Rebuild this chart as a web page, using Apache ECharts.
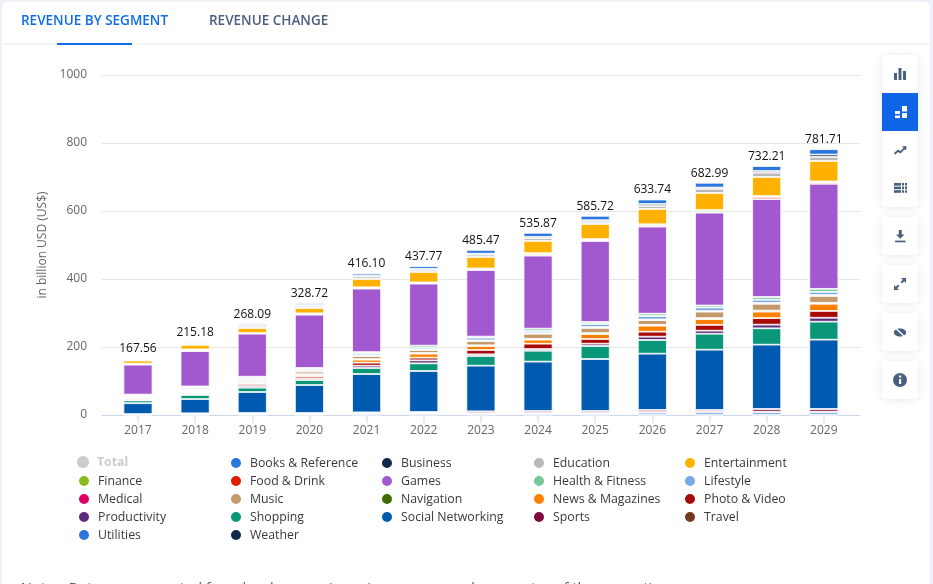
<!DOCTYPE html>
<html><head><meta charset="utf-8">
<style>html,body{margin:0;padding:0;background:#eef2f8;overflow:hidden}#c{width:933px;height:584px}</style>
<script src="https://cdn.jsdelivr.net/npm/echarts@6/dist/echarts.min.js"></script>
</head><body><div id="c"></div>
<script>
const years=['2017','2018','2019','2020','2021','2022','2023','2024','2025','2026','2027','2028','2029'];
const total=[167.56,215.18,268.09,328.72,416.10,437.77,485.47,535.87,585.72,633.74,682.99,732.21,781.71];
const yTicks=[0,200,400,600,800,1000];
const weather=[.3,.5,.6,.6,.3,1,1,1,1,.5,.5,.5,.5];
const utilities=[1,2,2,2,5,3.5,3,3.5,3.5,6,6.5,6.5,6.5];
const travel=[.5,.8,1.3,1.3,.5,1.3,1.8,2.3,2.3,2.2,3,3,3];
const sports=[1,1.7,2,2,2,3,5,5,5,6,4.7,7.6,7.6];
const social=[32,42,61.7,82.3,112.8,120.6,134.2,145.2,152.9,165.7,177.3,189.3,204];
const shopping=[8,11.8,12.8,14.7,17.6,22.6,28.5,32,38.3,40.2,47,48.1,52.9];
const productivity=[2,2.8,4.9,4,6.8,8.8,4.9,5,6.8,9.8,9,10.7,11.5];
const photo=[3,3,5.9,5.8,8.9,7.8,12.8,15.8,13.7,14.6,17,19.3,20];
const news=[3,3,3,4.4,8.8,11.8,11.8,11.8,14.5,17.7,17,19,21];
const navigation=[1,3,3,3,1.8,2,2,2.4,3,2.5,3,3,3];
const music=[4,3,4.7,7.4,9,8.8,12.6,15,15,13.8,19,20,20];
const medical=[.8,3,3,3,1.5,2,2,2,2.6,2,2,3,3];
const lifestyle=[2.5,4.5,3.9,4,5,4.8,7.9,6,9,10,10,9,9];
const health=[1,3,3.9,3.7,5,6,3,7,5.9,7,6,8,9];
const games=[88,103.9,126.5,156.8,186.6,182.3,196,214.6,238.3,256,273,288,309];
const food=[.6,2,.6,1,1.5,1.2,1.5,3,2.8,3,3,6,4];
const finance=[2.4,3,1.2,3,2.4,2.5,3,4.4,3,4,5,3,3];
const entertainment=[9,13,14.9,15.7,24.5,30.6,33.7,36,44.2,45,50,56,60];
const education=[3,3.5,4.19,5.9,7,6.4,6.9,8,6.2,8.7,12,12.7,12];
const business=[1.46,2.18,4,3,3,3,3,4,5,5.9,4,4.9,7];
const books=[3,3.5,4,5.12,6.1,7.77,10.87,11.87,12.72,13.14,13.99,14.61,15.71];

const stackOrder=[
 ['Weather',weather,'#0f2a47'],['Utilities',utilities,'#2b76de'],['Travel',travel,'#733a20'],
 ['Sports',sports,'#7c0a3e'],['Social Networking',social,'#005bb0'],['Shopping',shopping,'#0a9678'],
 ['Productivity',productivity,'#5c2a78'],['Photo & Video',photo,'#a80a0a'],['News & Magazines',news,'#ff8000'],
 ['Navigation',navigation,'#3e6b00'],['Music',music,'#c49a6c'],['Medical',medical,'#dc0062'],
 ['Lifestyle',lifestyle,'#78a8e6'],['Health & Fitness',health,'#76c99a'],['Games',games,'#a259cf'],
 ['Food & Drink',food,'#dd1c00'],['Finance',finance,'#8abb1e'],['Entertainment',entertainment,'#ffb100'],
 ['Education',education,'#b9b9b9'],['Business',business,'#0f2a47'],['Books & Reference',books,'#2b76de']];
const legendCols=[
 ['Finance','Medical','Productivity','Utilities'],
 ['Books & Reference','Food & Drink','Music','Shopping','Weather'],
 ['Business','Games','Navigation','Social Networking'],
 ['Education','Health & Fitness','News & Magazines','Sports'],
 ['Entertainment','Lifestyle','Photo & Video','Travel']];
const legendLeft=[77,229,380,532,683];
const legendTop=[474,456,456,456,456];
const FONT='"Open Sans"';
const slate='#4a6080';

const series=stackOrder.map(([name,data,color])=>({
 name,type:'bar',stack:'s',xAxisIndex:1,yAxisIndex:1,data,barWidth:29,
 itemStyle:{color,borderColor:'#fff',borderWidth:0.8}}));
series.push({name:'Total',type:'line',xAxisIndex:1,yAxisIndex:1,data:total,
 symbol:'circle',symbolSize:1,lineStyle:{opacity:0},itemStyle:{opacity:0,color:'#ccc'},
 label:{show:true,position:'top',distance:3,color:'#111',fontFamily:FONT,fontSize:12,fontWeight:500,
   opacity:1,formatter:p=>p.value.toFixed(2)},z:5});

const legendText={fontFamily:FONT,fontSize:12.3,padding:[0,0,0,3]};
const legendBase={orient:'vertical',padding:0,itemGap:4,itemWidth:12,itemHeight:12,icon:'circle',selectedMode:false};
const legends=legendCols.map((names,i)=>({...legendBase,
 left:legendLeft[i],top:legendTop[i],textStyle:{color:'#3a3a3a',...legendText},data:names}));
legends.push({...legendBase,left:legendLeft[0],top:456,
 textStyle:{color:'#ccc',fontWeight:700,...legendText},
 data:[{name:'Total',itemStyle:{color:'#ccc',opacity:1}}]});

const R=(x,y,w,h)=>[[x,y],[x+w,y],[x+w,y+h],[x,y+h]];
const ic=(polys,x,y,fill)=>polys.map(points=>({type:'polygon',z:12,x,y,shape:{points},style:{fill:fill||slate}}));
const card=(y,h,fill)=>({type:'rect',z:10,shape:{x:882,y,width:36,height:h,r:4},
  style:{fill:fill||'#fff',shadowBlur:8,shadowColor:'rgba(60,80,120,0.13)',shadowOffsetY:1}});
const gridIcon=[];
[0,3.6,7.2].forEach(v=>{gridIcon.push(R(0,v,7,2.6),R(8,v,2,2.6),R(11,v,2,2.6));});
const graphic=[
 {type:'rect',z:-10,shape:{x:2,y:2,width:928,height:590,r:5},style:{fill:'#fff'}},
 {type:'rect',z:-9,shape:{x:2,y:43,width:928,height:2},style:{fill:'#f2f6fb'}},
 {type:'rect',z:-8,shape:{x:57,y:43,width:75,height:2},style:{fill:'#0f6be8'}},
 {type:'text',z:5,style:{x:21,y:21,text:'REVENUE BY SEGMENT',fill:'#0f6be8',font:'600 13.5px "Open Sans"',textVerticalAlign:'middle'}},
 {type:'text',z:5,style:{x:209,y:21,text:'REVENUE CHANGE',fill:slate,font:'600 13.5px "Open Sans"',textVerticalAlign:'middle'}},
 {type:'text',z:5,style:{x:21,y:589,text:'Notes: Data was converted from local currencies using average exchange rates of the respective',fill:slate,font:'14.5px "Open Sans"',textVerticalAlign:'middle'}},
 card(55,152),card(217,38),card(265,38),card(313,38),card(361,38),
 {type:'rect',z:11,shape:{x:882,y:93,width:36,height:38},style:{fill:'#0f65e6'}},
 ...ic([R(0,5,3,7),R(4.5,0,3,12),R(9,3,3,9)],894,68),
 ...ic([R(0,5,5,3),R(0,9.5,5,2.6),R(7,0,5,5.5),R(7,7,5,5)],895,106,'#fff'),
 ...ic([[[0,8],[4,4.5],[6.5,6],[9.5,3],[8,1.5],[12.5,1],[12,5.5],[10.7,4.2],[6.5,8.5],[4,7],[1,9.8]]],894,145),
 ...ic(gridIcon,894,183),
 ...ic([[[3.8,0],[6.8,0],[6.8,4.5],[9.5,4.5],[5.3,8.8],[1,4.5],[3.8,4.5]],R(0,10.6,10.6,1.7)],895,230),
 ...ic([[[7,0],[12,0],[12,5],[10.2,3.2],[8,5.4],[6.6,4],[8.8,1.8]],[[5,12],[0,12],[0,7],[1.8,8.8],[4,6.6],[5.4,8],[3.2,10.2]]],894,278),
 {type:'ellipse',z:12,shape:{cx:900,cy:332.5,rx:6.2,ry:4},style:{fill:slate}},
 {type:'line',z:13,shape:{x1:895,y1:327.5,x2:905,y2:337},style:{stroke:'#fff',lineWidth:1.4}},
 {type:'circle',z:12,shape:{cx:900,cy:380,r:7},style:{fill:slate}},
 {type:'rect',z:13,shape:{x:899,y:379,width:2.2,height:5},style:{fill:'#fff'}},
 {type:'rect',z:13,shape:{x:899,y:375.5,width:2.2,height:2},style:{fill:'#fff'}}
];

const chart=echarts.init(document.getElementById('c'),null,{renderer:'canvas'});
chart.setOption({
 animation:false,backgroundColor:'transparent',
 grid:[{left:102,width:758,top:75,height:340},{left:109.4,width:743,top:75,height:340}],
 xAxis:[
  {type:'category',gridIndex:0,data:years,axisLine:{show:true,lineStyle:{color:'#ccd6eb',width:1}},axisTick:{show:false},axisLabel:{show:false}},
  {type:'category',gridIndex:1,data:years,axisLine:{show:false},
   axisTick:{show:true,alignWithLabel:true,length:8,lineStyle:{color:'#e3e9f6',width:2}},
   axisLabel:{color:'#666',fontFamily:FONT,fontSize:12,margin:10}}],
 yAxis:[
  {type:'value',gridIndex:0,min:yTicks[0],max:yTicks[yTicks.length-1],interval:yTicks[1]-yTicks[0],
   name:'in billion USD (US$)',nameLocation:'middle',nameRotate:90,nameGap:51,
   nameTextStyle:{color:'#666',fontFamily:FONT,fontSize:12},
   axisLine:{show:false},axisTick:{show:false},
   axisLabel:{color:'#666',fontFamily:FONT,fontSize:12,margin:15,formatter:v=>String(v)},
   splitLine:{show:true,lineStyle:{color:'#e6e6e6',width:1}}},
  {type:'value',gridIndex:1,min:yTicks[0],max:yTicks[yTicks.length-1],show:false}],
 legend:legends,series,graphic,tooltip:{show:false}
});
</script></body></html>
